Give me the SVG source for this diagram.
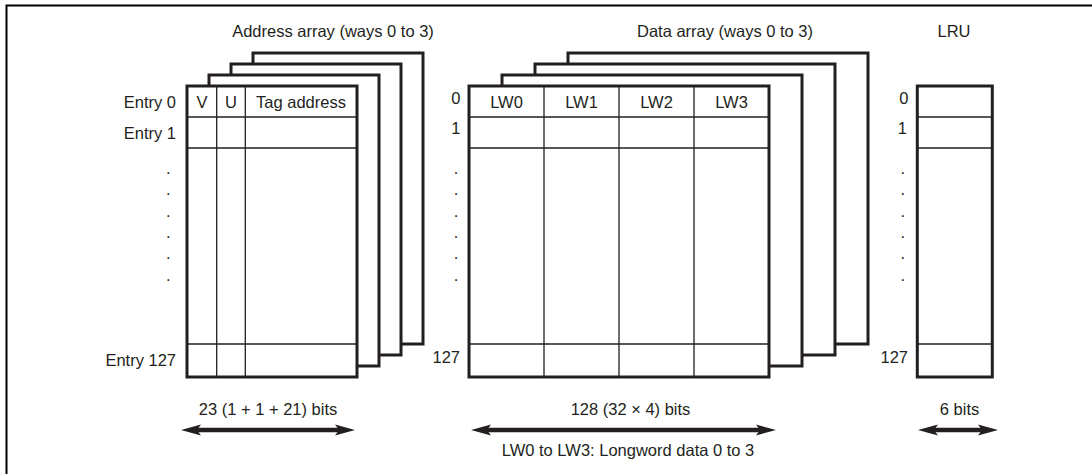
<svg xmlns="http://www.w3.org/2000/svg" width="1092" height="474" viewBox="0 0 1092 474">
<style>
  text { font-family: "Liberation Sans", Arial, sans-serif; font-size: 16.5px; fill: #231f20; }
  .mid { text-anchor: middle; }
  .end { text-anchor: end; }
  .sheet { fill: #ffffff; stroke: #231f20; stroke-width: 3; }
  .grid { stroke: #231f20; stroke-width: 1.3; fill: none; }
  .shaft { stroke: #231f20; stroke-width: 4.5; fill: none; }
  .frame { fill: none; stroke: #000000; stroke-width: 2; }
</style>
<defs>
  <marker id="head" viewBox="0 0 20 12" refX="4" refY="6" markerWidth="20" markerHeight="12" markerUnits="userSpaceOnUse" orient="auto-start-reverse">
    <path d="M20,6 L0,0.6 L4,6 L0,11.4 Z" fill="#231f20"/>
  </marker>
</defs>
<rect x="0" y="0" width="1092" height="474" fill="#ffffff"/>
<rect class="frame" x="6.5" y="5.5" width="1095" height="480"/>

<g id="address-array">
  <text class="mid" x="333" y="37">Address array (ways 0 to 3)</text>
  <rect class="sheet" x="253" y="53" width="170" height="291"/>
  <rect class="sheet" x="231" y="64" width="170" height="291"/>
  <rect class="sheet" x="209" y="75" width="170" height="291"/>
  <rect class="sheet" x="187" y="86" width="170" height="291"/>
  <path class="grid" d="M187,117H357M187,148H357M187,344H357M216.7,86V377M245.3,86V377"/>
  <text class="mid" x="202" y="107.5">V</text>
  <text class="mid" x="231" y="107.5">U</text>
  <text class="mid" x="301" y="107.5">Tag address</text>
  <text class="end" x="176" y="107.5">Entry 0</text>
  <text class="end" x="176" y="138.5">Entry 1</text>
  <text class="end" x="176" y="366">Entry 127</text>
  <text class="mid" x="168.3" y="174">.</text>
  <text class="mid" x="168.3" y="195">.</text>
  <text class="mid" x="168.3" y="217">.</text>
  <text class="mid" x="168.3" y="238">.</text>
  <text class="mid" x="168.3" y="259">.</text>
  <text class="mid" x="168.3" y="281">.</text>
  <text class="mid" x="268" y="415">23 (1 + 1 + 21) bits</text>
</g>

<g id="data-array">
  <text class="mid" x="725" y="37">Data array (ways 0 to 3)</text>
  <rect class="sheet" x="568" y="53" width="300" height="291"/>
  <rect class="sheet" x="535" y="64" width="300" height="291"/>
  <rect class="sheet" x="502" y="75" width="300" height="291"/>
  <rect class="sheet" x="469" y="86" width="300" height="291"/>
  <path class="grid" d="M469,117H769M469,148H769M469,344H769M544,86V377M619,86V377M694,86V377"/>
  <text class="mid" x="506.5" y="107.5">LW0</text>
  <text class="mid" x="581.5" y="107.5">LW1</text>
  <text class="mid" x="656.5" y="107.5">LW2</text>
  <text class="mid" x="731.5" y="107.5">LW3</text>
  <text class="end" x="460.5" y="103.5">0</text>
  <text class="end" x="460.5" y="133.5">1</text>
  <text class="end" x="460" y="363">127</text>
  <text class="mid" x="456" y="174">.</text>
  <text class="mid" x="456" y="195">.</text>
  <text class="mid" x="456" y="217">.</text>
  <text class="mid" x="456" y="238">.</text>
  <text class="mid" x="456" y="259">.</text>
  <text class="mid" x="456" y="281">.</text>
  <text class="mid" x="630.5" y="415">128 (32 × 4) bits</text>
  <text class="mid" x="628" y="456">LW0 to LW3: Longword data 0 to 3</text>
</g>

<g id="lru">
  <text class="mid" x="954" y="37">LRU</text>
  <rect class="sheet" x="917.3" y="86" width="75" height="291"/>
  <path class="grid" d="M917.3,117H992.3M917.3,148H992.3M917.3,344H992.3"/>
  <text class="end" x="908.5" y="103.5">0</text>
  <text class="end" x="907" y="133.5">1</text>
  <text class="end" x="908" y="362.5">127</text>
  <text class="mid" x="902.7" y="174">.</text>
  <text class="mid" x="902.7" y="195">.</text>
  <text class="mid" x="902.7" y="217">.</text>
  <text class="mid" x="902.7" y="238">.</text>
  <text class="mid" x="902.7" y="259">.</text>
  <text class="mid" x="902.7" y="281">.</text>
  <text class="mid" x="959.5" y="415">6 bits</text>
</g>

<g id="connectors">
  <line class="shaft" x1="197" y1="430" x2="339" y2="430" marker-start="url(#head)" marker-end="url(#head)"/>
  <line class="shaft" x1="487" y1="430" x2="760" y2="430" marker-start="url(#head)" marker-end="url(#head)"/>
  <line class="shaft" x1="934" y1="430" x2="982" y2="430" marker-start="url(#head)" marker-end="url(#head)"/>
</g>
</svg>
